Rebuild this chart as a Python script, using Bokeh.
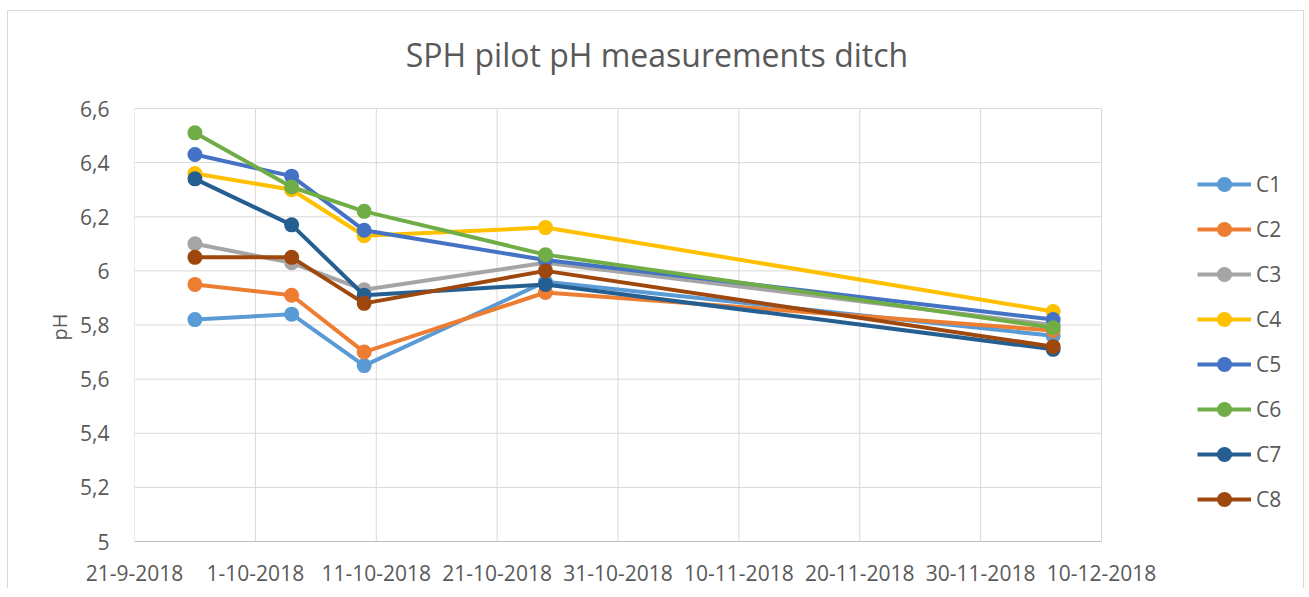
import pandas as pd
from bokeh.plotting import figure
from bokeh.models import (Range1d, FixedTicker, CustomJSTickFormatter, Legend, LegendItem, Label,
                          Title, ColumnDataSource)
from bokeh.embed import file_html
from bokeh.resources import INLINE

# ---------------- data ----------------
dates = ["2018-09-26", "2018-10-04", "2018-10-10", "2018-10-25", "2018-12-06"]
series_names = ["C1", "C2", "C3", "C4", "C5", "C6", "C7", "C8"]
C1 = [5.82, 5.84, 5.65, 5.96, 5.76]
C2 = [5.95, 5.91, 5.70, 5.92, 5.78]
C3 = [6.10, 6.03, 5.93, 6.03, 5.80]
C4 = [6.36, 6.30, 6.13, 6.16, 5.85]
C5 = [6.43, 6.35, 6.15, 6.04, 5.82]
C6 = [6.51, 6.31, 6.22, 6.06, 5.79]
C7 = [6.34, 6.17, 5.91, 5.95, 5.71]
C8 = [6.05, 6.05, 5.88, 6.00, 5.72]
x_tick_dates = ["2018-09-21", "2018-10-01", "2018-10-11", "2018-10-21", "2018-10-31",
                "2018-11-10", "2018-11-20", "2018-11-30", "2018-12-10"]
y_ticks = [5.0, 5.2, 5.4, 5.6, 5.8, 6.0, 6.2, 6.4, 6.6]
title_text = "SPH pilot pH measurements ditch"
y_label = "pH"

colors = ["#5B9BD5", "#ED7D31", "#A5A5A5", "#FFC000", "#4472C4", "#70AD47", "#255E91", "#9E480E"]
values = [C1, C2, C3, C4, C5, C6, C7, C8]

FONT = "Open Sans"
TXT = "#595959"
GRID = "#D9D9D9"

x_dt = pd.to_datetime(dates)
tick_ms = [pd.Timestamp(d).value // 10**6 for d in x_tick_dates]

# layout: plot area 967x433 px; the frame is extended right and up to host legend and title
W, H = 1297, 578
BL, BR, BT, BB = 126, 0, 0, 48
PLOT_W, PLOT_H = 967, 433
frame_w = W - BL - BR
frame_h = H - BT - BB
x_start = pd.Timestamp(x_tick_dates[0])
x_end = pd.Timestamp(x_tick_dates[-1])
x_view_end = x_start + (x_end - x_start) * (frame_w / PLOT_W)
y_start, y_end = y_ticks[0], y_ticks[-1]
y_view_end = y_start + (y_end - y_start) * (frame_h / PLOT_H)

p = figure(width=W, height=H, x_axis_type="datetime", output_backend="svg",
           toolbar_location=None, title=None,
           x_range=Range1d(start=x_start, end=x_view_end),
           y_range=Range1d(start=y_start, end=y_view_end),
           min_border_left=BL, min_border_right=BR, min_border_top=BT, min_border_bottom=BB)
p.margin = (10, 0, 0, 7)
p.styles = {"border-top": "1px solid #D9D9D9", "border-left": "1px solid #D9D9D9",
            "border-right": "1px solid #D9D9D9"}
p.outline_line_color = None
p.background_fill_color = "white"
p.border_fill_color = "white"

# axes
xt = FixedTicker(ticks=tick_ms)
p.xaxis.ticker = xt
p.xaxis.bounds = (x_start, x_end)
p.xaxis.formatter = CustomJSTickFormatter(code="""
const d = new Date(tick);
return d.getUTCDate() + "-" + (d.getUTCMonth() + 1) + "-" + d.getUTCFullYear();
""")
yt = FixedTicker(ticks=y_ticks)
p.yaxis.ticker = yt
p.yaxis.bounds = (y_start, y_end)
p.yaxis.formatter = CustomJSTickFormatter(code="""
const v = Math.round(tick * 10) / 10;
return v.toString().replace('.', ',');
""")
for ax in (p.xaxis[0], p.yaxis[0]):
    ax.major_tick_in = 0
    ax.major_tick_out = 0
    ax.minor_tick_in = 0
    ax.minor_tick_out = 0
    ax.major_label_text_font = FONT
    ax.major_label_text_font_size = "21px"
    ax.major_label_text_color = TXT
p.xaxis.axis_line_color = "#BFBFBF"
p.xaxis.axis_line_width = 1
p.xaxis.major_label_standoff = 23
p.yaxis.axis_line_color = None
p.yaxis.major_label_standoff = 25

# y-axis title, centred on the plot area (not on the extended frame)
ylab = Title(text=y_label, align="left", offset=201, standoff=9,
             text_font=FONT, text_font_size="20px", text_color=TXT, text_font_style="normal")
p.add_layout(ylab, "left")

p.xgrid.visible = False
p.ygrid.visible = False

# gridlines limited to the plot area
p.segment(x0=[x_start] * len(y_ticks), x1=[x_end] * len(y_ticks), y0=y_ticks, y1=y_ticks,
          line_color=GRID, line_width=1, level="underlay")
p.segment(x0=pd.to_datetime(x_tick_dates), x1=pd.to_datetime(x_tick_dates),
          y0=[y_start] * len(x_tick_dates), y1=[y_end] * len(x_tick_dates),
          line_color=GRID, line_width=1, level="underlay")

items = []
for name, vals, col in zip(series_names, values, colors):
    src = ColumnDataSource(dict(x=x_dt, y=vals))
    r1 = p.line("x", "y", source=src, line_color=col, line_width=4, line_join="round")
    r2 = p.scatter("x", "y", source=src, size=15, fill_color=col, line_color=col, line_width=0)
    items.append(LegendItem(label=name, renderers=[r1, r2]))

legend = Legend(items=items, location=(1063, 23), orientation="vertical",
                glyph_width=54, glyph_height=38, label_height=38, spacing=7,
                label_standoff=5, padding=0, margin=0,
                label_text_font=FONT, label_text_font_size="21px", label_text_color=TXT,
                border_line_color=None, background_fill_alpha=0)
p.add_layout(legend, "center")

title = Label(x=522.5, y=487, x_units="screen", y_units="screen", text=title_text,
              text_font=FONT, text_font_size="32px", text_color=TXT,
              text_align="center", text_baseline="alphabetic")
p.add_layout(title, "center")

open("out.html", "w").write(file_html(p, INLINE))
